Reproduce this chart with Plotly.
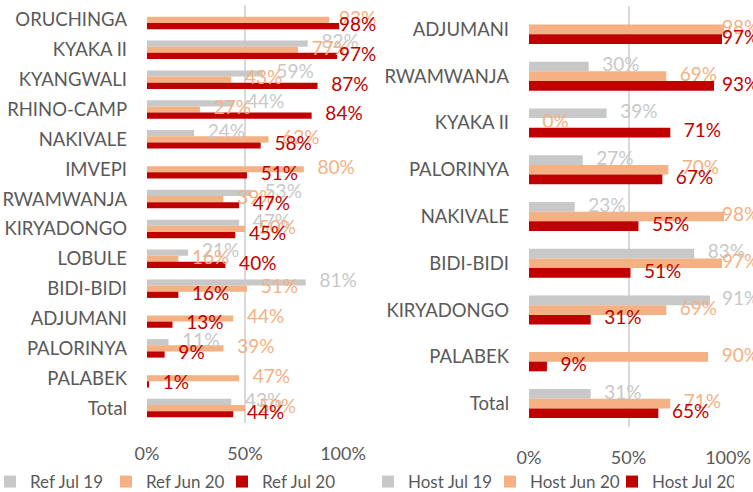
import plotly.graph_objects as go

# ---------------- data ----------------
ref_camps = ["ORUCHINGA", "KYAKA II", "KYANGWALI", "RHINO-CAMP", "NAKIVALE", "IMVEPI",
             "RWAMWANJA", "KIRYADONGO", "LOBULE", "BIDI-BIDI", "ADJUMANI", "PALORINYA",
             "PALABEK", "Total"]
ref_jul19 = [None, 82, 59, 44, 24, None, 53, 47, 21, 81, None, 11, None, 43]
ref_jun20 = [93, 77, 43, 27, 62, 80, 39, 50, 16, 51, 44, 39, 47, 50]
ref_jul20 = [98, 97, 87, 84, 58, 51, 47, 45, 40, 16, 13, 9, 1, 44]

host_camps = ["ADJUMANI", "RWAMWANJA", "KYAKA II", "PALORINYA", "NAKIVALE", "BIDI-BIDI",
              "KIRYADONGO", "PALABEK", "Total"]
host_jul19 = [None, 30, 39, 27, 23, 83, 91, None, 31]
host_jun20 = [98, 69, 0, 70, 98, 97, 69, 90, 71]
host_jul20 = [97, 93, 71, 67, 55, 51, 31, 9, 65]

ref_names = ["Ref Jul 19", "Ref Jun 20", "Ref Jul 20"]
host_names = ["Host Jul 19", "Host Jun 20", "Host Jul 20"]
x_ticks = [0, 50, 100]
x_tick_text = ["0%", "50%", "100%"]

# ---------------- style ----------------
W, H = 753, 492
colors = ["#C8C8C8", "#F4B183", "#C00000"]
text_colors = ["#C8C8C8", "#F4B183", "#C00000"]
FONT = "Lato, 'Open Sans', sans-serif"
GREY_TXT = "#595959"
GRID = "#D9D9D9"
GAP = 0.38


def label_x(values, gap, cap):
    return [None if v is None else min(v + gap, cap) for v in values]


def label_text(values):
    return [None if v is None else f"{v}%" for v in values]


fig = go.Figure()

panels = [
    (ref_camps, [ref_jul19, ref_jun20, ref_jul20], ref_names, "x", "y", "legend", 7.0, 98.0),
    (host_camps, [host_jul19, host_jun20, host_jul20], host_names, "x2", "y2", "legend2", 6.8, 97.0),
]

for cats, series, names, xa, ya, leg, gap, cap in panels:
    for i, (vals, name) in enumerate(zip(series, names)):
        fig.add_trace(go.Bar(
            y=cats, x=vals, name=name, orientation="h",
            marker=dict(color=colors[i], line=dict(width=0)),
            xaxis=xa, yaxis=ya, legend=leg, hoverinfo="skip",
        ))
    for i, (vals, name) in enumerate(zip(series, names)):
        fig.add_trace(go.Scatter(
            y=cats, x=label_x(vals, gap, cap), text=label_text(vals),
            mode="text", textposition="middle right", orientation="h",
            textfont=dict(family=FONT, size=19, color=text_colors[i]),
            xaxis=xa, yaxis=ya, showlegend=False, cliponaxis=False, hoverinfo="skip",
        ))

xcommon = dict(range=[0, 100], tickvals=x_ticks, ticktext=x_tick_text,
               showgrid=True, gridcolor=GRID, gridwidth=2, zeroline=False,
               showline=False, ticks="", ticklabelstandoff=18,
               tickfont=dict(family=FONT, size=18, color=GREY_TXT), fixedrange=True)
ycommon = dict(autorange="reversed", showgrid=False, zeroline=False, showline=False,
               ticks="", ticklabelstandoff=19,
               tickfont=dict(family=FONT, size=18.5, color=GREY_TXT), fixedrange=True)

legcommon = dict(orientation="h", yanchor="middle", y=1 - 482 / H, xanchor="left",
                 font=dict(family=FONT, size=17, color=GREY_TXT),
                 bgcolor="rgba(0,0,0,0)", itemclick=False, itemdoubleclick=False,
                 tracegroupgap=0, entrywidthmode="pixels")

fig.update_layout(
    width=W, height=H,
    margin=dict(l=0, r=0, t=0, b=0, autoexpand=False),
    paper_bgcolor="white", plot_bgcolor="white",
    barmode="group", bargap=GAP, bargroupgap=0,
    scattermode="group", scattergap=GAP,
    xaxis=dict(domain=[147 / W, 343 / W], anchor="y", **xcommon),
    yaxis=dict(domain=[1 - 423 / H, 1 - 5 / H], anchor="x", **ycommon),
    xaxis2=dict(domain=[529 / W, 728 / W], anchor="y2", **xcommon),
    yaxis2=dict(domain=[1 - 427 / H, 1 - 6 / H], anchor="x2", **ycommon),
    legend=dict(x=-10 / W, entrywidth=71, **legcommon),
    legend2=dict(x=368 / W, entrywidth=77, **legcommon),
    showlegend=True,
)

fig.write_html("out.html", config={"displayModeBar": False},
               post_script="document.body.style.margin='0';document.body.style.overflow='hidden';")
